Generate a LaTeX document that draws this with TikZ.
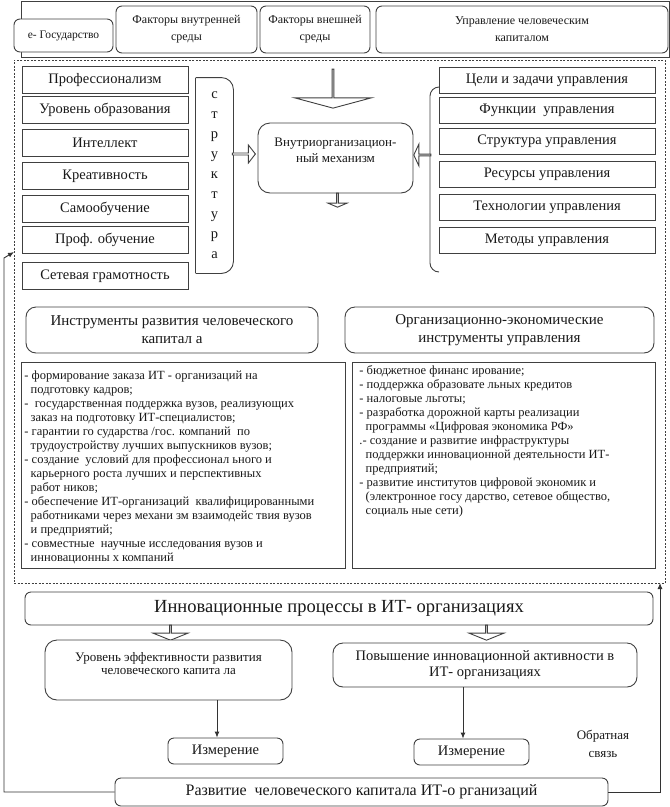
\documentclass[tikz,border=0pt]{standalone}
\usepackage{fontspec}
\setmainfont{Liberation Serif}
\usetikzlibrary{arrows.meta}
\usetikzlibrary{positioning}
\usetikzlibrary{shapes.arrows}

\begin{document}
\begin{tikzpicture}
	[x=1pt,y=-1pt,line width=0.9pt,
	every node/.style={inner sep=1pt,text=black!90},
	box/.style={draw=black!75,fill=white,rounded corners=6pt,align=center},
	item/.style={draw=black!75,fill=white,minimum height=27pt,font=\fontsize{14.5}{17}\selectfont},
	hollow/.style={single arrow,draw=black!75,fill=white,inner sep=0pt},
	link/.style={draw=black!80,-{Latex[length=6pt,width=5pt]}}]
	\useasboundingbox (0,0) rectangle (670,807);
	
	% header
	\draw[black!75] (21,1) rectangle (669,57);
	\node[box,minimum width=99pt,minimum height=33pt,font=\fontsize{11.5}{14}\selectfont] (gov) at (63.5,35.5) {е- Государство};
	\node[box,minimum width=141pt,minimum height=47pt,font=\fontsize{12}{17}\selectfont] (fin) at (186.5,29.5) {Факторы внутренней\\среды};
	\node[box,minimum width=110pt,minimum height=47pt,font=\fontsize{12}{17}\selectfont] (fex) at (315,29.5) {Факторы внешней\\среды};
	\node[box,minimum width=292pt,minimum height=47pt,font=\fontsize{12}{17}\selectfont] (hcm) at (522,29.5) {Управление человеческим\\капиталом};
	
	\node[draw=black!75,dash pattern=on 2pt off 1.5pt,minimum width=651pt,minimum height=523pt] (frame) at (339.5,321.5) {};
	
	% left column
	\foreach \name/\y/\txt in
	{pr/80/Профессионализм, ur/109.5/Уровень образования, in/142.5/Интеллект, kr/176/Креативность,
	 so/209/Самообучение, po/240/Проф. обучение, sg/276/Сетевая грамотность}
	\node[item,minimum width=166pt] (\name) at (105,\y) {\txt};
	
	\node[minimum width=37pt,minimum height=195pt,align=center,font=\fontsize{14.5}{20}\selectfont] (str) at (214.5,175.5) {с\\т\\р\\у\\к\\т\\у\\р\\а};
	\draw[black!75] (str.south west) -- (str.north west);
	\draw[black!75,rounded corners=12pt] (str.north west) -- (str.north east) -- (str.south east) -- (str.south west);
	
	% right column
	\foreach \name/\y/\txt in
	{cz/80/Цели и задачи управления, fu/110/Функции\ \ управления, su/141.5/Структура управления,
	 ru/174/Ресурсы управления, tu/207.5/Технологии управления, mu/240/Методы управления}
	\node[item,minimum width=216pt,minimum height=26pt] (\name) at (547,\y) {\txt};
	\draw[black!75,rounded corners=9pt] (439,87) -| (430,272) -- (439,272);
	
	% mechanism
	\node[box,rounded corners=12pt,minimum width=155pt,minimum height=70pt,font=\fontsize{13}{16}\selectfont] (mech) at (335.5,158) {Внутриорганизацион-\\ный механизм\\\mbox{}};
	\node[hollow,rotate=-90,minimum height=39pt,minimum width=77pt,single arrow head extend=19.5pt,single arrow tip angle=150] (topar) at (333,88.5) {};
	\node[hollow,minimum height=23pt,minimum width=18pt,single arrow head extend=3.5pt,single arrow tip angle=104] (strar) at (243.5,154) {};
	\node[hollow,rotate=180,minimum height=17pt,minimum width=22pt,single arrow head extend=5.5pt,single arrow tip angle=130] (upar) at (422.5,155) {};
	\node[hollow,rotate=-90,minimum height=14pt,minimum width=19pt,single arrow head extend=4.5pt,single arrow tip angle=134] (mechar) at (337.5,200) {};
	
	% instruments
	\node[box,rounded corners=10pt,minimum width=292pt,minimum height=46pt,font=\fontsize{15}{18}\selectfont] (ihc) at (172,330) {Инструменты развития человеческого\\капитал а};
	\node[box,rounded corners=10pt,minimum width=309pt,minimum height=46pt,font=\fontsize{15}{18}\selectfont] (oet) at (499.5,330) {Организационно-экономические\\инструменты управления};
	\node[draw=black!75,minimum width=324pt,minimum height=206pt] (ltx) at (183,465) {};
	\node[draw=black!75,minimum width=303pt,minimum height=206pt] (rtx) at (503.5,465) {};
	\node[anchor=north west,align=left,font=\fontsize{12.5}{14}\selectfont] (ltxt) at (23,369)
	{- формирование заказа ИТ - организаций на\\
	\hspace*{0.5em}подготовку кадров;\\
	-\ \ государственная поддержка вузов, реализующих\\
	\hspace*{0.5em}заказ на подготовку ИТ-специалистов;\\
	- гарантии го сударства /гос. компаний\ \ по\\
	\hspace*{0.5em}трудоустройству лучших выпускников вузов;\\
	- создание\ \ условий для профессионал ьного и\\
	\hspace*{0.5em}карьерного роста лучших и перспективных\\
	\hspace*{0.5em}работ ников;\\
	- обеспечение ИТ-организаций\ \ квалифицированными\\
	\hspace*{0.5em}работниками через механи зм взаимодейс твия вузов\\
	\hspace*{0.5em}и предприятий;\\
	- совместные\ \ научные исследования вузов и\\
	\hspace*{0.5em}инновационны х компаний};
	\node[anchor=north west,align=left,font=\fontsize{12.5}{14}\selectfont] (rtxt) at (358,364)
	{- бюджетное финанс ирование;\\
	- поддержка образовате льных кредитов\\
	- налоговые льготы;\\
	- разработка дорожной карты реализации\\
	\hspace*{0.5em}программы «Цифровая экономика РФ»\\
	.- создание и развитие инфраструктуры\\
	\hspace*{0.5em}поддержки инновационной деятельности ИТ-\\
	\hspace*{0.5em}предприятий;\\
	- развитие институтов цифровой экономик и\\
	\hspace*{0.5em}(электронное госу дарство, сетевое общество,\\
	\hspace*{0.5em}социаль ные сети)};
	
	% innovation and results
	\node[box,minimum width=628pt,minimum height=33pt,font=\fontsize{18.5}{20}\selectfont] (inn) at (339,608.5) {Инновационные процессы в ИТ- организациях};
	\node[hollow,rotate=-90,minimum height=15pt,minimum width=35pt,single arrow head extend=8pt,single arrow tip angle=136] (innl) at (170.5,632.5) {};
	\node[hollow,rotate=-90,minimum height=15pt,minimum width=35pt,single arrow head extend=8pt,single arrow tip angle=136] (innr) at (486.5,632.5) {};
	\node[box,rounded corners=12pt,minimum width=247pt,minimum height=60pt,font=\fontsize{13}{13.5}\selectfont] (eff) at (168.5,670) {Уровень эффективности развития\\человеческого капита ла\\\mbox{}};
	\node[box,rounded corners=10pt,minimum width=304pt,minimum height=44pt,font=\fontsize{14.5}{15.5}\selectfont] (act) at (485,665) {Повышение инновационной активности в\\ИТ- организациях};
	\node[box,minimum width=115pt,minimum height=26pt,font=\fontsize{14.5}{17}\selectfont] (mes1) at (225.5,751) {Измерение};
	\node[box,minimum width=115pt,minimum height=26pt,font=\fontsize{14.5}{17}\selectfont] (mes2) at (471.5,752) {Измерение};
	\draw[link] ([xshift=48.5pt]eff.south) -- ([xshift=48.5pt]eff.south |- mes1.north);
	\draw[link] ([xshift=-22pt]act.south) -- ([xshift=-22pt]act.south |- mes2.north);
	\node[align=center,font=\fontsize{13}{18}\selectfont] (fb) at (603,744) {Обратная\\связь};
	\node[box,minimum width=493pt,minimum height=28pt,font=\fontsize{16}{18}\selectfont] (dev) at (361.5,792) {Развитие\ \ человеческого капитала ИТ-о рганизаций};
	
	% feedback
	\coordinate (fbl) at (14,252);
	\coordinate (fbr) at (660,583);
	\draw[link] (dev.west) -| (4,258) -- (fbl);
	\draw[link] (dev.east) -| (fbr);
\end{tikzpicture}
\end{document}
